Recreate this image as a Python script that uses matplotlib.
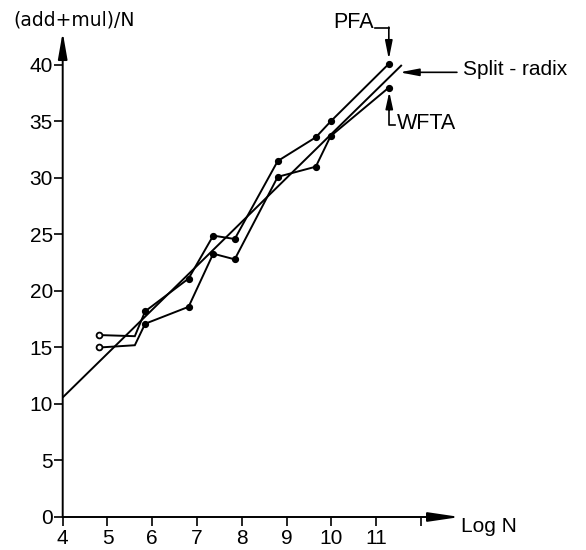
import matplotlib.pyplot as plt

plt.rcParams['font.family'] = ['Liberation Sans', 'DejaVu Sans']

# log2 of transform length (shared by PFA and WFTA curves)
log_n = [4.82, 5.61, 5.84, 6.81, 7.36, 7.84, 8.80, 9.65, 9.98, 11.28]
pfa = [16.1, 16.0, 18.2, 21.1, 24.9, 24.6, 31.5, 33.6, 35.0, 40.1]
wfta = [15.0, 15.2, 17.1, 18.6, 23.3, 22.8, 30.1, 31.0, 33.7, 38.0]

# split-radix is a straight line across the plot
split_x = [4.0, 11.57]
split_y = [10.58, 40.0]

x_ticks = [4, 5, 6, 7, 8, 9, 10, 11, 12]
x_tick_labels = ['4', '5', '6', '7', '8', '9', '10', '11', '']
y_ticks = [0, 5, 10, 15, 20, 25, 30, 35, 40]

fig = plt.figure(figsize=(5.86, 5.5), dpi=100)
ax = fig.add_axes([0.107, 0.06, 0.688, 0.8835])
ax.set_xlim(4, 13)
ax.set_ylim(0, 43)

lw = 1.4
ax.plot(split_x, split_y, color='black', lw=lw, solid_capstyle='butt')
for series in (pfa, wfta):
    ax.plot(log_n, series, color='black', lw=lw, solid_joinstyle='miter')
    # first point is an open circle, second is a plain corner, the rest are dots
    ax.plot(log_n[2:], series[2:], 'o', color='black', ms=4.2, lw=0)
    ax.plot(log_n[:1], series[:1], 'o', mfc='white', mec='black', mew=1.3, ms=4.2, zorder=4)

# axes with arrow heads
for spine in ax.spines.values():
    spine.set_visible(False)
ax.annotate('', xy=(12.87, 0), xytext=(4, 0), annotation_clip=False,
            arrowprops=dict(arrowstyle='-|>,head_length=1.9,head_width=0.28',
                            mutation_scale=10, lw=lw, color='black',
                            shrinkA=0, shrinkB=0))
ax.annotate('', xy=(4, 42.9), xytext=(4, 0), annotation_clip=False,
            arrowprops=dict(arrowstyle='-|>,head_length=1.6,head_width=0.28',
                            mutation_scale=10, lw=lw, color='black',
                            shrinkA=0, shrinkB=0))

ax.set_xticks(x_ticks)
ax.set_xticklabels(x_tick_labels)
ax.set_yticks(y_ticks)
ax.tick_params(direction='out', length=6.5, width=1.2, pad=2, labelsize=15)
ax.tick_params(axis='y', pad=0.5)

fig.text(0.022, 0.9545, '(add+mul)/N', fontsize=13.5, family='DejaVu Sans',
         ha='left', va='baseline')
fig.text(0.787, 0.033, 'Log N', fontsize=15, ha='left', va='baseline')

# PFA label with bracket arrow down to the last PFA point
ax.text(10.95, 43.3, 'PFA', fontsize=15.5, ha='right', va='baseline')
ax.plot([10.97, 11.28], [43.3, 43.3], color='black', lw=1.2, clip_on=False)
ax.annotate('', xy=(11.28, 40.5), xytext=(11.28, 43.35), annotation_clip=False,
            arrowprops=dict(arrowstyle='-|>,head_length=1.1,head_width=0.22',
                            mutation_scale=10, lw=1.2, color='black',
                            shrinkA=0, shrinkB=0))

# Split-radix label with arrow pointing left to the line
ax.annotate('', xy=(11.52, 39.35), xytext=(12.8, 39.35), annotation_clip=False,
            arrowprops=dict(arrowstyle='-|>,head_length=1.15,head_width=0.22',
                            mutation_scale=10, lw=1.2, color='black',
                            shrinkA=0, shrinkB=0))
ax.text(12.93, 39.15, 'Split - radix', fontsize=15, ha='left', va='baseline')

# WFTA label with L-bracket arrow up to the last WFTA point
ax.plot([11.29, 11.29, 11.42], [37.0, 34.66, 34.66], color='black', lw=1.2, clip_on=False)
ax.annotate('', xy=(11.29, 37.62), xytext=(11.29, 36.0), annotation_clip=False,
            arrowprops=dict(arrowstyle='-|>,head_length=1.0,head_width=0.22',
                            mutation_scale=10, lw=1.2, color='black',
                            shrinkA=0, shrinkB=0))
ax.text(11.45, 34.37, 'WFTA', fontsize=15.5, ha='left', va='baseline')

fig.savefig('out.png', dpi=100)
